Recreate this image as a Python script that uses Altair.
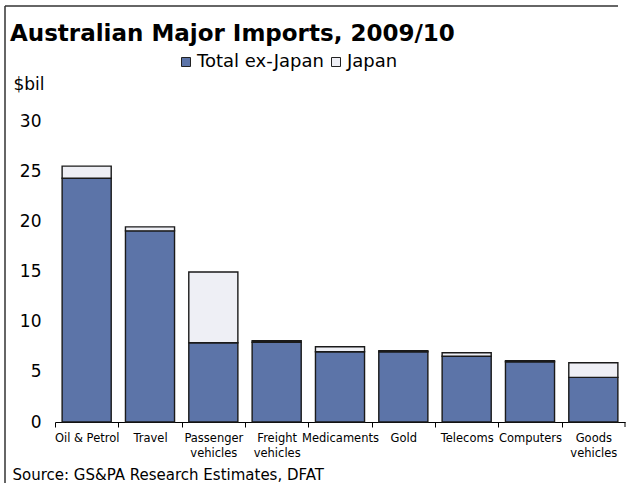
import altair as alt
import pandas as pd

categories = ["Oil & Petrol", "Travel", "Passenger vehicles", "Freight vehicles",
              "Medicaments", "Gold", "Telecoms", "Computers", "Goods vehicles"]
ex_japan = [24.3, 19.05, 7.9, 7.95, 7.0, 7.0, 6.55, 6.0, 4.45]
japan = [1.2, 0.4, 7.05, 0.15, 0.5, 0.1, 0.35, 0.1, 1.45]
series = ["Total ex-Japan", "Japan"]
colors = ["#5C74A8", "#EEEFF5"]
y_ticks = [0, 5, 10, 15, 20, 25, 30]

rows = []
for c, a, b in zip(categories, ex_japan, japan):
    rows.append({"cat": c, "series": series[0], "val": a, "ord": 0})
    rows.append({"cat": c, "series": series[1], "val": b, "ord": 1})
df = pd.DataFrame(rows)

FONT = "DejaVu Sans"
HALF_STEP = 570 / 9 / 2

bars = alt.Chart(df).mark_bar(stroke="#1a1a1a", strokeWidth=1.4).encode(
    x=alt.X("cat:N", sort=categories,
            scale=alt.Scale(paddingInner=0.225, paddingOuter=0.1125),
            axis=alt.Axis(title="Source: GS&PA Research Estimates, DFAT",
                          titleFont=FONT, titleFontSize=15, titleFontWeight="normal",
                          titleColor="#000000", titleAnchor="start", titleAlign="left",
                          titleBaseline="alphabetic", titleX=-43, titleY=57,
                          labelAngle=0, labelFont=FONT, labelFontSize=11.5,
                          labelColor="#000000", labelPadding=5, labelLineHeight=15,
                          labelOverlap=False, labelBaseline="top",
                          labelExpr="indexof(datum.value, 'vehicles') > 0 ? split(datum.value, ' ') : datum.value",
                          tickOffset=-HALF_STEP, labelOffset=HALF_STEP,
                          ticks=True, tickSize=5, tickColor="#000000", tickWidth=1,
                          domainColor="#000000", domainWidth=1, grid=False)),
    y=alt.Y("val:Q", stack="zero",
            scale=alt.Scale(domain=[0, 30], nice=False),
            axis=alt.Axis(values=y_ticks, title="$bil", titleAngle=0,
                          titleFont=FONT, titleFontSize=17, titleFontWeight="normal",
                          titleColor="#000000", titleAlign="left",
                          titleBaseline="alphabetic", titleX=-42, titleY=-32,
                          labelFont=FONT, labelFontSize=17, labelColor="#000000",
                          labelPadding=14, ticks=False, domain=False, grid=False)),
    color=alt.Color("series:N", sort=series,
                    scale=alt.Scale(domain=series, range=colors),
                    legend=alt.Legend(title=None, orient="none", direction="horizontal",
                                      legendX=122, legendY=-68,
                                      symbolType="square", symbolSize=81,
                                      symbolStrokeColor="#222222", symbolStrokeWidth=1,
                                      symbolOpacity=1,
                                      labelFont=FONT, labelFontSize=18,
                                      labelColor="#000000", labelOffset=2,
                                      columnPadding=3)),
    order=alt.Order("ord:Q", sort="ascending"),
)

one = pd.DataFrame({"k": [0]})
end_tick = alt.Chart(one).mark_rule(color="#000000", strokeWidth=1).encode(
    x=alt.value(570), y=alt.value(301), y2=alt.value(306))
top_line = alt.Chart(one).mark_rule(color="#333333", strokeWidth=1.5).encode(
    x=alt.value(-50), x2=alt.value(563), y=alt.value(-115))
left_line = alt.Chart(one).mark_rule(color="#333333", strokeWidth=1.5).encode(
    x=alt.value(-50), y=alt.value(-115), y2=alt.value(365))

chart = alt.layer(bars, end_tick, top_line, left_line).properties(
    width=570, height=301,
    background="white",
    title=alt.TitleParams("Australian Major Imports, 2009/10", font=FONT, fontSize=23,
                          fontWeight="bold", color="#000000", anchor="start",
                          frame="group", dx=-45, dy=41, offset=0),
    autosize=alt.AutoSizeParams(type="none"),
    padding={"left": 55, "top": 121, "right": 6, "bottom": 61},
).configure_view(stroke="transparent", strokeWidth=0)

chart.save("out.html", embed_options={"renderer": "svg", "actions": False})
